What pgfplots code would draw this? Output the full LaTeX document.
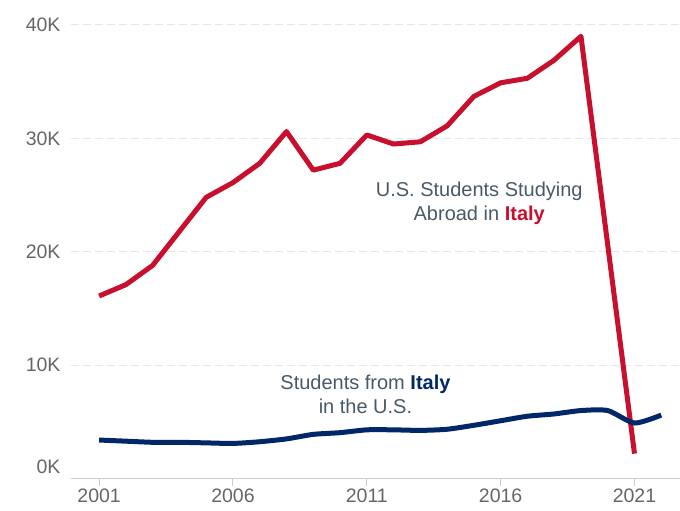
\documentclass[border=0pt]{standalone}
\usepackage{pgfplots}
\pgfplotsset{compat=1.18}
\usepackage{fontspec}
\setmainfont{Liberation Sans}
\definecolor{itred}{HTML}{C8102E}
\definecolor{itblue}{HTML}{002868}
\definecolor{txtgray}{HTML}{4A5968}
\definecolor{tickgray}{HTML}{666666}
\definecolor{gridgray}{HTML}{E6E6E6}
\definecolor{axgray}{HTML}{CCCCCC}
\begin{document}
\begin{tikzpicture}
\useasboundingbox (-71pt,-32.4pt) rectangle (609pt,478.6pt);
\begin{axis}[
  scale only axis, width=609pt, height=459.3pt,
  xmin=1999.95, xmax=2022.7, ymin=0, ymax=40500,
  scaled y ticks=false, scaled x ticks=false,
  axis x line*=bottom, axis y line*=left,
  y axis line style={draw=none},
  x axis line style={axgray, line width=1.5pt},
  xtick={2001,2006,2011,2016,2021},
  xticklabels={2001,2006,2011,2016,2021},
  ytick={0,10000,20000,30000,40000},
  yticklabels={\smash{\raisebox{5pt}{0K}},10K,20K,30K,40K},
  ytick style={draw=none},
  xtick style={axgray, line width=1pt},
  tick align=outside, major tick length=7pt,
  ymajorgrids,
  grid style={gridgray, dash pattern=on 8pt off 4pt, line width=1pt},
  tick label style={font=\fontsize{19.5}{22}\selectfont, text=tickgray},
  clip=false,
]
\addplot[itred, line width=5pt, line join=round, no markers] coordinates {
(2001,16100) (2002,17100) (2003,18800) (2004,21800) (2005,24800)
(2006,26100) (2007,27800) (2008,30600) (2009,27200) (2010,27800)
(2011,30300) (2012,29500) (2013,29700) (2014,31100) (2015,33700)
(2016,34900) (2017,35300) (2018,36900) (2019,39000) (2021,2200)
};
\addplot[itblue, line width=5pt, line join=round, no markers, smooth, tension=0.4] coordinates {
(2001,3400) (2002,3300) (2003,3200) (2004,3200) (2005,3150)
(2006,3100) (2007,3250) (2008,3500) (2009,3900) (2010,4050)
(2011,4300) (2012,4300) (2013,4250) (2014,4350) (2015,4700)
(2016,5100) (2017,5500) (2018,5700) (2019,6000) (2020,6000)
(2021,4900) (2022,5600)
};
\node[align=center, text=txtgray, font=\fontsize{20}{24}\selectfont] at (axis cs:2015.2,24300)
  {U.S. Students Studying\\Abroad in \textcolor{itred}{\textbf{Italy}}};
\node[align=center, text=txtgray, font=\fontsize{20}{24}\selectfont] at (axis cs:2010.95,7400)
  {Students from \textcolor{itblue}{\textbf{Italy}}\\in the U.S.};
\end{axis}
\end{tikzpicture}
\end{document}
